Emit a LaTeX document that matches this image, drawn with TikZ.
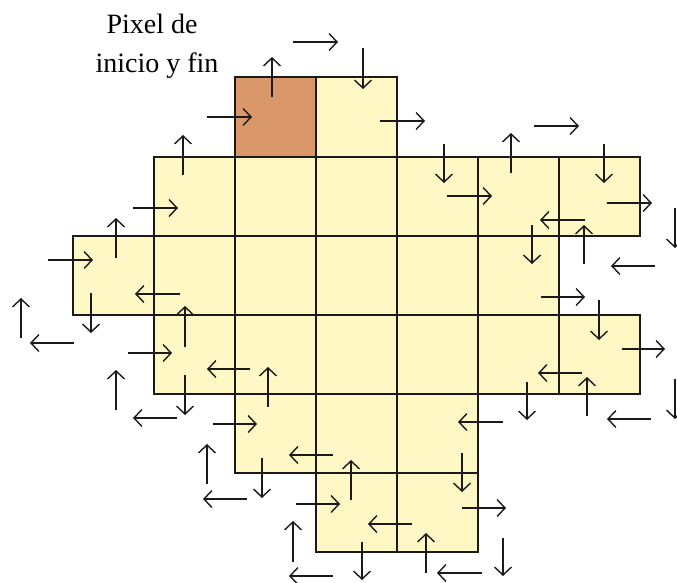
\documentclass[tikz,border=0pt]{standalone}
\usepackage{fontspec}
\setmainfont{Liberation Serif}
\usetikzlibrary{arrows.meta}
\definecolor{cellyellow}{HTML}{FFF7C4}
\definecolor{cellbrown}{HTML}{D9976A}
\definecolor{ink}{HTML}{1A1A1A}
\tikzset{
  cellbox/.style={fill=cellyellow, draw=ink, line width=1.6pt},
  startbox/.style={fill=cellbrown, draw=ink, line width=1.6pt},
  arr/.style={line width=1.6pt, draw=ink, -{Straight Barb[length=8pt,width=17pt,line width=1.4pt]}},
  lbl/.style={anchor=base, inner sep=0pt, font=\fontsize{28}{34}\selectfont}
}
\begin{document}
\begin{tikzpicture}[x=1pt,y=-1pt]
\useasboundingbox (0,0) rectangle (677,582);
% column / row boundaries
\def\cx{{73,154,235,316,397,478,559,640}}
\def\ry{{77,157,236,315,394,473,552}}
\newcommand{\mycell}[3][cellbox]{%
  \pgfmathsetmacro{\xa}{\cx[#2]}\pgfmathsetmacro{\xb}{\cx[#2+1]}%
  \pgfmathsetmacro{\ya}{\ry[#3]}\pgfmathsetmacro{\yb}{\ry[#3+1]}%
  \draw[#1] (\xa,\ya) rectangle (\xb,\yb);}
% row 0
\mycell[startbox]{2}{0}
\mycell{3}{0}
% row 1
\foreach \i in {1,...,6} {\mycell{\i}{1}}
% row 2
\foreach \i in {0,...,5} {\mycell{\i}{2}}
% row 3
\foreach \i in {1,...,6} {\mycell{\i}{3}}
% row 4
\foreach \i in {2,...,4} {\mycell{\i}{4}}
% row 5
\foreach \i in {3,4} {\mycell{\i}{5}}
% label
\node[lbl] (l1) at (152,33) {Pixel de};
\node[lbl] (l2) at (157,72) {inicio y fin};
% tracing arrows
\draw[arr] (272,97) -- (272,57);
\draw[arr] (293,42) -- (338,42);
\draw[arr] (363,48) -- (363,89);
\draw[arr] (380,121) -- (425,121);
\draw[arr] (444,144) -- (444,183);
\draw[arr] (447,196) -- (492,196);
\draw[arr] (511,173) -- (511,133);
\draw[arr] (534,126) -- (579,126);
\draw[arr] (604,144) -- (604,183);
\draw[arr] (607,203) -- (652,203);
\draw[arr] (675,208) -- (675,248);
\draw[arr] (655,266) -- (611,266);
\draw[arr] (584,264) -- (584,225);
\draw[arr] (585,220) -- (540,220);
\draw[arr] (532,225) -- (532,264);
\draw[arr] (541,297) -- (585,297);
\draw[arr] (599,300) -- (599,340);
\draw[arr] (622,349) -- (665,349);
\draw[arr] (675,379) -- (675,419);
\draw[arr] (651,419) -- (607,419);
\draw[arr] (587,416) -- (587,377);
\draw[arr] (582,373) -- (538,373);
\draw[arr] (527,382) -- (527,420);
\draw[arr] (503,422) -- (458,422);
\draw[arr] (462,453) -- (462,492);
\draw[arr] (462,508) -- (506,508);
\draw[arr] (503,538) -- (503,576);
\draw[arr] (482,573) -- (437,573);
\draw[arr] (426,573) -- (426,533);
\draw[arr] (412,524) -- (368,524);
\draw[arr] (362,542) -- (362,580);
\draw[arr] (333,576) -- (289,576);
\draw[arr] (293,562) -- (293,521);
\draw[arr] (296,504) -- (340,504);
\draw[arr] (351,500) -- (351,460);
\draw[arr] (333,455) -- (289,455);
\draw[arr] (262,458) -- (262,498);
\draw[arr] (247,499) -- (203,499);
\draw[arr] (207,484) -- (207,444);
\draw[arr] (213,424) -- (257,424);
\draw[arr] (268,407) -- (268,367);
\draw[arr] (250,369) -- (207,369);
\draw[arr] (185,375) -- (185,415);
\draw[arr] (177,418) -- (133,418);
\draw[arr] (116,410) -- (116,370);
\draw[arr] (128,353) -- (172,353);
\draw[arr] (185,347) -- (185,306);
\draw[arr] (180,294) -- (135,294);
\draw[arr] (91,293) -- (91,333);
\draw[arr] (74,343) -- (30,343);
\draw[arr] (21,338) -- (21,298);
\draw[arr] (48,260) -- (93,260);
\draw[arr] (116,258) -- (116,218);
\draw[arr] (133,208) -- (178,208);
\draw[arr] (183,175) -- (183,135);
\draw[arr] (207,117) -- (252,117);
\end{tikzpicture}
\end{document}
